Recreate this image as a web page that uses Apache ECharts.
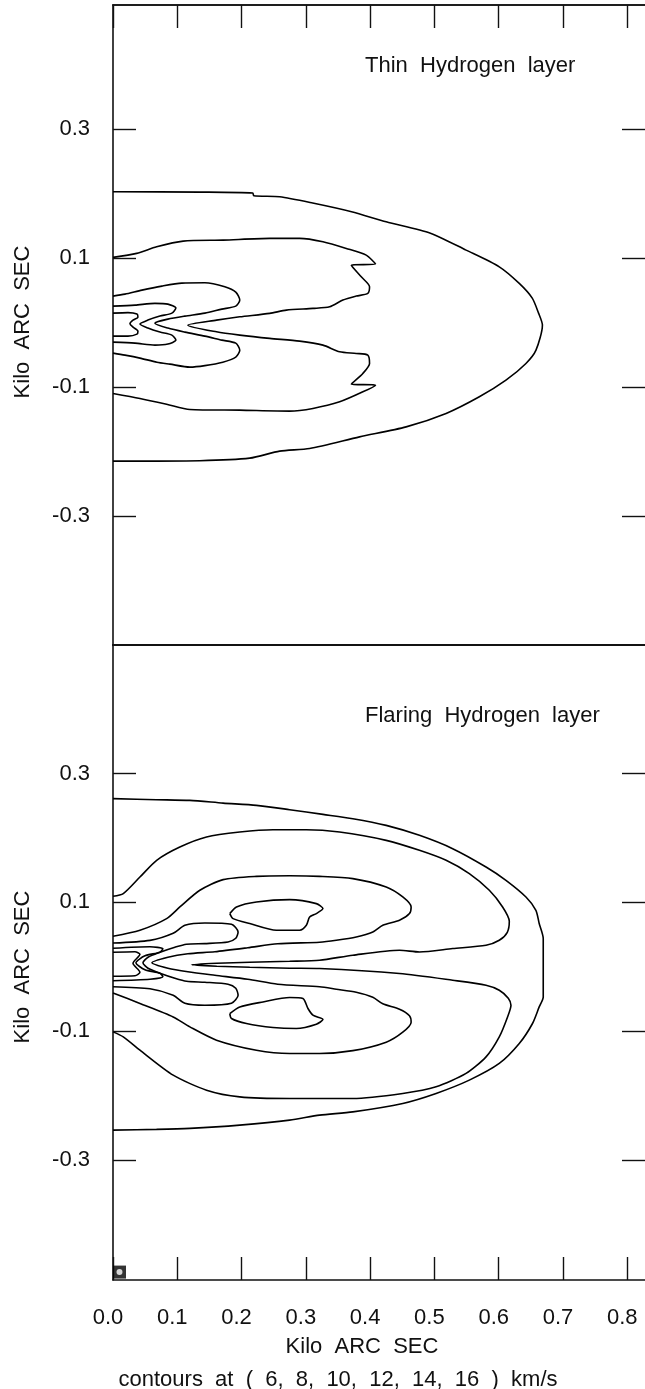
<!DOCTYPE html>
<html>
<head>
<meta charset="utf-8">
<script src="https://cdn.jsdelivr.net/npm/echarts@6/dist/echarts.min.js"></script>
<style>
  html, body { margin: 0; padding: 0; background: #fff; }
  #chart { width: 645px; height: 1389px; }
</style>
</head>
<body>
<div id="chart"></div>
<script>
// Tick positions (Kilo arc sec)
const xTicks = [0, 0.1, 0.2, 0.3, 0.4, 0.5, 0.6, 0.7, 0.8];
const yTicks = [-0.3, -0.1, 0.1, 0.3];

// ---- Thin hydrogen layer: contour paths [x, y] ----
const thin6 = [[0,0.2025],[0.135,0.202],[0.2174,0.2005],[0.219,0.1963],[0.2593,0.1947],[0.3106,0.185],[0.3711,0.1715],[0.425,0.156],[0.4938,0.1384],[0.5492,0.1121],[0.6009,0.0862],[0.632,0.0605],[0.6522,0.0377],[0.662,0.0144],[0.668,-0.0042],[0.658,-0.043],[0.6424,-0.0636],[0.6113,-0.0895],[0.5699,-0.1153],[0.5182,-0.1411],[0.456,-0.1619],[0.3835,-0.1774],[0.3059,-0.1953],[0.2593,-0.1995],[0.2127,-0.2104],[0.135,-0.2143],[0,-0.215]];
const thin8 = [[0,0.1008],[0.0368,0.107],[0.0679,0.1172],[0.1092,0.126],[0.1713,0.1276],[0.2438,0.1302],[0.2904,0.1302],[0.3266,0.125],[0.3629,0.1147],[0.3939,0.1043],[0.4084,0.0904],[0.3707,0.0888],[0.3862,0.0707],[0.3991,0.0552],[0.3964,0.045],[0.3784,0.0408],[0.3576,0.0346],[0.337,0.0242],[0.311,0.0217],[0.2697,0.0191],[0.2438,0.014],[0.1972,0.0087],[0.161,0.0036],[0.1165,-0.0042],[0.161,-0.0146],[0.1972,-0.0197],[0.2438,-0.0248],[0.2904,-0.029],[0.3266,-0.0352],[0.3526,-0.0456],[0.3784,-0.0481],[0.3964,-0.0507],[0.3991,-0.0636],[0.3887,-0.0791],[0.3707,-0.0957],[0.4084,-0.0972],[0.3887,-0.1076],[0.3526,-0.1231],[0.311,-0.1333],[0.2748,-0.1375],[0.1972,-0.136],[0.1196,-0.1349],[0.0834,-0.1267],[0.0419,-0.1178],[0,-0.1101]];
const thin10 = [[0,0.0408],[0.0186,0.0439],[0.045,0.0501],[0.0761,0.0563],[0.1071,0.0609],[0.1429,0.0614],[0.1739,0.0552],[0.191,0.047],[0.1972,0.0346],[0.191,0.0253],[0.1693,0.0206],[0.1429,0.0144],[0.1118,0.0098],[0.0854,0.0051],[0.0652,-0.0011],[0.0854,-0.0088],[0.1118,-0.015],[0.1429,-0.0212],[0.1693,-0.0274],[0.191,-0.0321],[0.1972,-0.043],[0.191,-0.0538],[0.1708,-0.0616],[0.1429,-0.067],[0.1196,-0.0693],[0.0885,-0.0647],[0.0683,-0.0616],[0.0419,-0.0553],[0.0186,-0.0507],[0,-0.0476]];
const thin12 = [[0,0.0253],[0.0342,0.0268],[0.0652,0.0295],[0.0854,0.0284],[0.0978,0.0222],[0.0916,0.0144],[0.073,0.0098],[0.0543,0.0036],[0.0419,-0.0026],[0.0543,-0.0088],[0.073,-0.015],[0.0916,-0.0197],[0.0978,-0.0274],[0.0854,-0.0336],[0.0652,-0.0352],[0.0342,-0.0321],[0,-0.0305]];
const thin14 = [[0,0.0144],[0.0233,0.0152],[0.0373,0.0129],[0.0388,0.0082],[0.0311,0.0036],[0.0264,-0.0019],[0.0311,-0.0073],[0.0388,-0.0135],[0.0373,-0.0181],[0.0233,-0.0212],[0,-0.0212]];

// ---- Flaring hydrogen layer: contour paths [x, y] ----
const flare6 = [[0,0.2612],[0.0677,0.2596],[0.1196,0.2585],[0.1713,0.2543],[0.2231,0.2508],[0.2748,0.2441],[0.3266,0.2368],[0.3731,0.2301],[0.425,0.2197],[0.4767,0.2042],[0.5284,0.1835],[0.5803,0.155],[0.6113,0.1343],[0.6424,0.1084],[0.6579,0.0877],[0.663,0.0671],[0.6693,0.0438],[0.6693,-0.0469],[0.663,-0.0624],[0.6526,-0.0882],[0.632,-0.1193],[0.6009,-0.1503],[0.5543,-0.1762],[0.5026,-0.1969],[0.4508,-0.2124],[0.3731,-0.2255],[0.3214,-0.2306],[0.2748,-0.2384],[0.1972,-0.2461],[0.1196,-0.2512],[0.0677,-0.2528],[0,-0.2539]];
const flare8 = [[0,0.1095],[0.016,0.1137],[0.0419,0.1394],[0.0679,0.1654],[0.104,0.186],[0.1455,0.2016],[0.1972,0.2093],[0.2489,0.213],[0.3008,0.213],[0.3525,0.2093],[0.425,0.1964],[0.4767,0.1809],[0.5182,0.1654],[0.5543,0.1447],[0.5854,0.1188],[0.6061,0.0929],[0.6165,0.0707],[0.6134,0.0536],[0.6009,0.0411],[0.5803,0.0334],[0.5284,0.0283],[0.4767,0.023],[0.4457,0.0256],[0.3731,0.0179],[0.3214,0.0101],[0.2748,0.0085],[0.2127,0.007],[0.1615,0.0054],[0.1222,0.0031],[0.1615,0.0008],[0.2127,-0.0008],[0.2748,-0.0023],[0.3214,-0.0028],[0.4457,-0.0106],[0.5284,-0.021],[0.5803,-0.0287],[0.6009,-0.0365],[0.6149,-0.0489],[0.6191,-0.0598],[0.6138,-0.078],[0.6009,-0.109],[0.5803,-0.1401],[0.5492,-0.1658],[0.5026,-0.1866],[0.4508,-0.1969],[0.3731,-0.2047],[0.3214,-0.2047],[0.2748,-0.2047],[0.1972,-0.2022],[0.1455,-0.1918],[0.0936,-0.1685],[0.0419,-0.1297],[0.016,-0.109],[0,-0.1012]];
const flare10 = [[0,0.0474],[0.0419,0.0567],[0.0834,0.0748],[0.104,0.0929],[0.1351,0.1188],[0.1713,0.1354],[0.2231,0.1405],[0.2748,0.1413],[0.3214,0.1405],[0.3731,0.137],[0.425,0.1239],[0.4508,0.1084],[0.4638,0.0929],[0.4612,0.0826],[0.4457,0.0722],[0.4197,0.0644],[0.4042,0.054],[0.3784,0.0463],[0.3474,0.0411],[0.3214,0.038],[0.2562,0.0357],[0.2096,0.0295],[0.1584,0.0233],[0.1165,0.0202],[0.0854,0.0148],[0.0606,0.0062],[0.0854,-0.0023],[0.1165,-0.0078],[0.1584,-0.0132],[0.2096,-0.0194],[0.2562,-0.0272],[0.3214,-0.0311],[0.3474,-0.0349],[0.3784,-0.0396],[0.4042,-0.0474],[0.4197,-0.0575],[0.4457,-0.066],[0.4612,-0.0761],[0.4638,-0.0862],[0.4508,-0.1017],[0.425,-0.1172],[0.3731,-0.1304],[0.3214,-0.1348],[0.2748,-0.1348],[0.2231,-0.1297],[0.161,-0.1141],[0.1196,-0.0935],[0.0936,-0.078],[0.0419,-0.0571],[0,-0.0407]];
const flare12 = [[0,0.0368],[0.0575,0.041],[0.0936,0.052],[0.1118,0.0644],[0.1429,0.068],[0.1843,0.066],[0.1946,0.054],[0.191,0.0443],[0.179,0.0385],[0.1429,0.036],[0.1144,0.035],[0.0963,0.0303],[0.0731,0.0225],[0.0545,0.0148],[0.0466,0.0062],[0.0545,-0.0023],[0.0731,-0.01],[0.0963,-0.0178],[0.1144,-0.0225],[0.1429,-0.0241],[0.179,-0.0272],[0.191,-0.0334],[0.1946,-0.0443],[0.1843,-0.0567],[0.1429,-0.0598],[0.1118,-0.0567],[0.0936,-0.0443],[0.0575,-0.0342],[0,-0.031]];
const flare14 = [[0,0.0287],[0.0575,0.031],[0.0776,0.0279],[0.0730,0.0225],[0.0497,0.017],[0.0357,0.0062],[0.0497,-0.0047],[0.073,-0.0101],[0.0776,-0.0155],[0.0575,-0.0194],[0,-0.0217]];
const flare16 = [[0,0.0225],[0.0342,0.0233],[0.0419,0.0194],[0.0311,0.0054],[0.0419,-0.0085],[0.0342,-0.014],[0,-0.0147]];
const flareLoopUpper = [[0.1817,0.0826],[0.1921,0.0929],[0.2231,0.1006],[0.2748,0.1043],[0.3163,0.0981],[0.3266,0.0904],[0.3163,0.0826],[0.3059,0.0773],[0.3008,0.0644],[0.2904,0.0567],[0.2542,0.0567],[0.2127,0.0671],[0.1868,0.0748],[0.1817,0.0826]];
const flareLoopLower = [[0.1817,-0.0727],[0.1972,-0.0624],[0.2334,-0.0547],[0.2748,-0.0478],[0.2955,-0.0494],[0.3033,-0.0649],[0.311,-0.0753],[0.3266,-0.082],[0.3163,-0.0893],[0.2852,-0.096],[0.2489,-0.0944],[0.2076,-0.0882],[0.1843,-0.0804],[0.1817,-0.0727]];

// Beam marker in the lower-left corner
const beamPosition = [[0.0101, -0.4745]];

const panelTitles = ['Thin  Hydrogen  layer', 'Flaring  Hydrogen  layer'];
const axisTitle = 'Kilo  ARC  SEC';
const footnote = 'contours  at  (  6,  8,  10,  12,  14,  16  )  km/s';

const FONT = '"Liberation Sans", Arial, Helvetica, sans-serif';
const INK = '#111';
const X_MAX = 0.8276;

const chart = echarts.init(document.getElementById('chart'), null, { renderer: 'canvas' });

function contour(data, grid) {
  return {
    type: 'line', data: data, xAxisIndex: grid * 3, yAxisIndex: grid * 2,
    showSymbol: false, smooth: 0.25, silent: true, animation: false,
    lineStyle: { color: '#000', width: 1.6 }
  };
}

function xAxisCfg(grid, pos, ticks, labels) {
  return {
    type: 'value', gridIndex: grid, position: pos, min: 0, max: X_MAX,
    axisLine: { show: true, onZero: false, lineStyle: { color: INK, width: 1.6 } },
    axisTick: { show: ticks, inside: true, length: 23, customValues: xTicks, lineStyle: { color: INK, width: 1.4 } },
    axisLabel: { show: labels, customValues: xTicks, margin: 27, fontFamily: FONT, fontSize: 22, color: INK,
                 padding: [0, 10, 0, 0], formatter: v => v.toFixed(1) },
    splitLine: { show: false }
  };
}

// The right-hand frame edge sits just past the page edge, so only its ticks are drawn.
function yAxisCfg(grid, pos, min, max, labels) {
  return {
    type: 'value', gridIndex: grid, position: pos, min: min, max: max,
    axisLine: { show: pos === 'left', onZero: false, lineStyle: { color: INK, width: 1.6 } },
    axisTick: { show: true, inside: true, length: 23, customValues: yTicks, lineStyle: { color: INK, width: 1.4 } },
    axisLabel: { show: labels, customValues: yTicks, margin: 23, fontFamily: FONT, fontSize: 22, color: INK,
                 padding: [13, 0, 0, 0], formatter: v => v.toFixed(1) },
    splitLine: { show: false }
  };
}

const option = {
  backgroundColor: '#fff',
  animation: false,
  grid: [
    { left: 113, top: 5, width: 533, height: 640 },
    { left: 113, top: 645, width: 533, height: 635 }
  ],
  xAxis: [
    xAxisCfg(0, 'top', true, false),
    xAxisCfg(0, 'bottom', false, false),
    xAxisCfg(0, 'top', false, false),
    xAxisCfg(1, 'bottom', true, true),
    xAxisCfg(1, 'top', false, false),
    xAxisCfg(1, 'top', false, false)
  ],
  yAxis: [
    yAxisCfg(0, 'left', -0.5, 0.492, true),
    yAxisCfg(0, 'right', -0.5, 0.492, false),
    yAxisCfg(1, 'left', -0.4868, 0.5, true),
    yAxisCfg(1, 'right', -0.4868, 0.5, false)
  ],
  series: [
    contour(thin6, 0), contour(thin8, 0), contour(thin10, 0), contour(thin12, 0), contour(thin14, 0),
    contour(flare6, 1), contour(flare8, 1), contour(flare10, 1), contour(flare12, 1), contour(flare14, 1),
    contour(flare16, 1), contour(flareLoopUpper, 1), contour(flareLoopLower, 1),
    { type: 'scatter', data: beamPosition, xAxisIndex: 3, yAxisIndex: 2, symbol: 'rect', symbolSize: 13,
      itemStyle: { color: '#000' }, silent: true, z: 5 },
    { type: 'scatter', data: beamPosition, xAxisIndex: 3, yAxisIndex: 2, symbol: 'circle', symbolSize: 6,
      itemStyle: { color: '#fff' }, silent: true, z: 6 }
  ],
  graphic: [
    { type: 'text', x: 365, y: 66, style: { text: panelTitles[0], font: '22px ' + FONT, fill: INK, align: 'left', verticalAlign: 'middle', textAlign: 'left', textVerticalAlign: 'middle' } },
    { type: 'text', x: 365, y: 716, style: { text: panelTitles[1], font: '22px ' + FONT, fill: INK, align: 'left', verticalAlign: 'middle', textAlign: 'left', textVerticalAlign: 'middle' } },
    { type: 'text', x: 23, y: 322, rotation: Math.PI / 2, style: { text: axisTitle, font: '22px ' + FONT, fill: INK, align: 'center', verticalAlign: 'middle', textAlign: 'center', textVerticalAlign: 'middle' } },
    { type: 'text', x: 23, y: 967, rotation: Math.PI / 2, style: { text: axisTitle, font: '22px ' + FONT, fill: INK, align: 'center', verticalAlign: 'middle', textAlign: 'center', textVerticalAlign: 'middle' } },
    { type: 'text', x: 362, y: 1347, style: { text: axisTitle, font: '22px ' + FONT, fill: INK, align: 'center', verticalAlign: 'middle', textAlign: 'center', textVerticalAlign: 'middle' } },
    { type: 'text', x: 338, y: 1380, style: { text: footnote, font: '22px ' + FONT, fill: INK, align: 'center', verticalAlign: 'middle', textAlign: 'center', textVerticalAlign: 'middle' } }
  ]
};

chart.setOption(option);
</script>
</body>
</html>
